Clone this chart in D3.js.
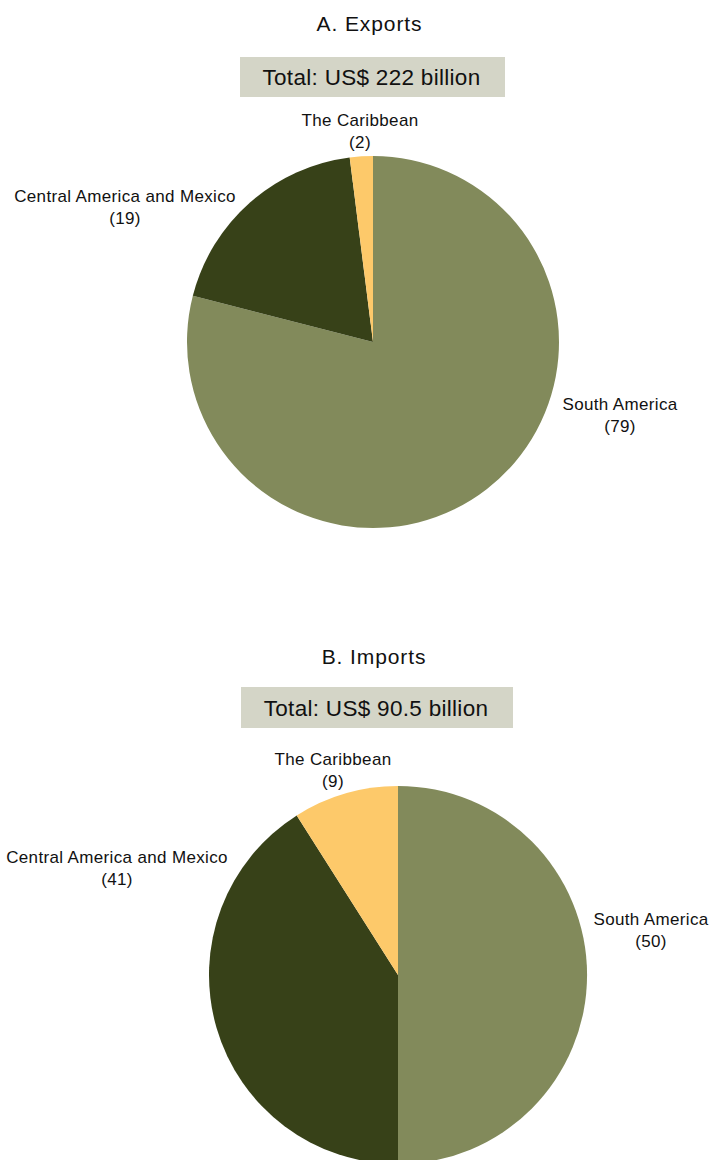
<!DOCTYPE html>
<html>
<head>
<meta charset="utf-8">
<script src="https://cdn.jsdelivr.net/npm/d3@7"></script>
<style>
  html, body { margin: 0; padding: 0; background: #ffffff; }
  svg { display: block; }
</style>
</head>
<body>
<svg id="chart" width="710" height="1160"></svg>
<script>
// Regions, in the order the slices are drawn clockwise from 12 o'clock
const regions = ["South America", "Central America and Mexico", "The Caribbean"];
// Shares (%) of the total by region
const exportShares = [79, 19, 2];
const importShares = [50, 41, 9];
// Panel titles and totals
const panelTitles = ["A. Exports", "B. Imports"];
const panelTotals = ["Total: US$ 222 billion", "Total: US$ 90.5 billion"];

const colors = d3.scaleOrdinal()
  .domain(regions)
  .range(["#828a5b", "#374118", "#fdc96a"]);

const FONT = "'Liberation Sans', Arial, Helvetica, sans-serif";

// Layout of each panel: pie centre/radius, title, total box and label anchors
const panels = [
  {
    title: panelTitles[0], total: panelTotals[0], values: exportShares,
    cx: 373, cy: 342, r: 186,
    titleY: 31, box: { x: 240, y: 57, w: 265, h: 40 },
    labels: [[620, 410], [125, 202], [360, 126]]
  },
  {
    title: panelTitles[1], total: panelTotals[1], values: importShares,
    cx: 398, cy: 975, r: 189,
    titleY: 664, box: { x: 241, y: 687, w: 272, h: 41 },
    labels: [[651, 925], [117, 863], [333, 765]]
  }
];

const svg = d3.select("#chart");

const pie = d3.pie().sort(null).value(d => d.value);

panels.forEach(p => {
  const g = svg.append("g");
  const centerX = p.box.x + p.box.w / 2;

  g.append("text")
    .attr("x", centerX - 3)
    .attr("y", p.titleY)
    .attr("text-anchor", "middle")
    .attr("font-family", FONT)
    .attr("font-size", 21)
    .attr("letter-spacing", 0.9)
    .attr("fill", "#111")
    .text(p.title);

  g.append("rect")
    .attr("x", p.box.x).attr("y", p.box.y)
    .attr("width", p.box.w).attr("height", p.box.h)
    .attr("fill", "#d4d5c7");

  g.append("text")
    .attr("x", centerX - 1)
    .attr("y", p.box.y + p.box.h / 2)
    .attr("dy", "0.36em")
    .attr("text-anchor", "middle")
    .attr("font-family", FONT)
    .attr("font-size", 22.5)
    .attr("letter-spacing", 0.3)
    .attr("fill", "#111")
    .text(p.total);

  const data = regions.map((name, i) => ({ name, value: p.values[i] }));
  const arcs = pie(data);
  const arc = d3.arc().innerRadius(0).outerRadius(p.r);

  const pieG = g.append("g").attr("transform", `translate(${p.cx},${p.cy})`);
  pieG.selectAll("path")
    .data(arcs)
    .join("path")
    .attr("d", arc)
    .attr("fill", d => colors(d.data.name));

  const lab = g.selectAll("text.lab")
    .data(arcs)
    .join("text")
    .attr("class", "lab")
    .attr("text-anchor", "middle")
    .attr("font-family", FONT)
    .attr("font-size", 17)
    .attr("letter-spacing", 0.35)
    .attr("fill", "#111")
    .attr("transform", (d, i) => `translate(${p.labels[i][0]},${p.labels[i][1]})`);
  lab.append("tspan").attr("x", 0).attr("y", 0).text(d => d.data.name);
  lab.append("tspan").attr("x", 0).attr("y", 22).text(d => `(${d.data.value})`);
});
</script>
</body>
</html>
